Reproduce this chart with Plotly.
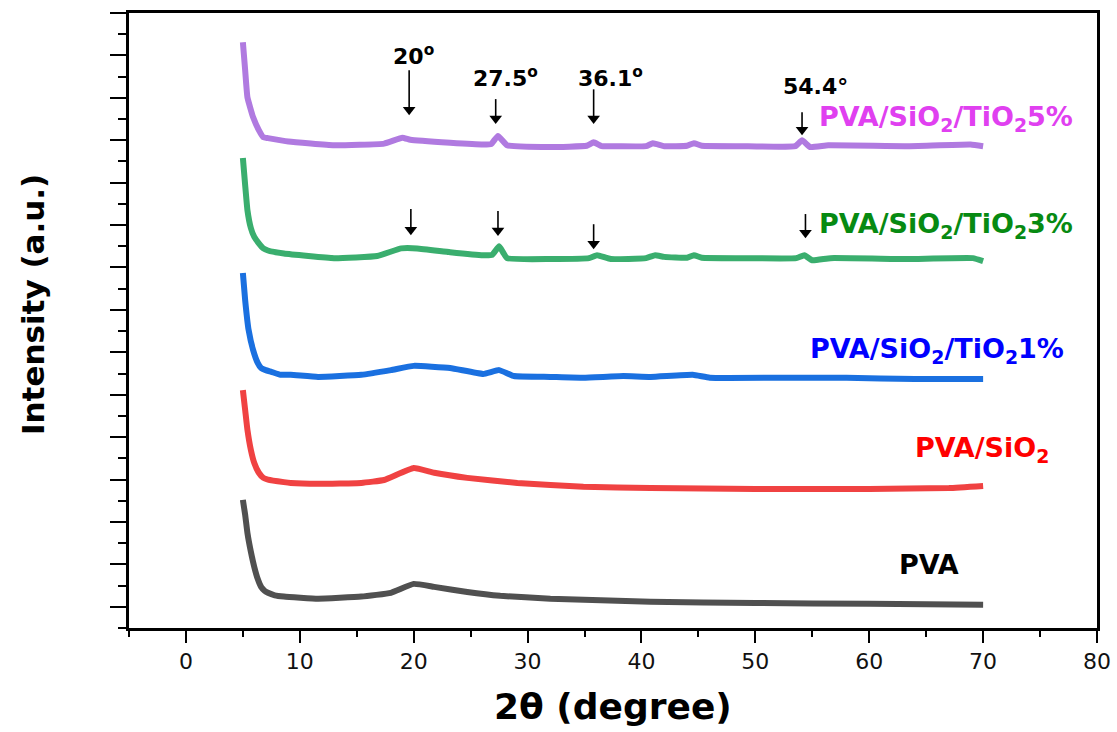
import plotly.graph_objects as go

# ---------------- data ----------------
pva_x = [5.0, 5.2, 5.4, 5.7, 6.0, 6.3, 6.6, 6.9, 7.2, 7.8, 8.6, 11.6, 15.4, 18.0, 20.0, 21.8, 24.7, 27.6, 32.0, 40.8, 50.0, 60.0, 70.0]
pva_y = [2.52, 2.17, 1.74, 1.30, 0.94, 0.66, 0.47, 0.38, 0.33, 0.27, 0.24, 0.19, 0.24, 0.33, 0.54, 0.47, 0.35, 0.26, 0.19, 0.12, 0.09, 0.07, 0.05]

sio2_x = [5.0, 5.2, 5.4, 5.7, 6.0, 6.4, 6.8, 7.2, 8.6, 9.2, 11.6, 15.4, 17.4, 20.0, 21.8, 24.7, 29.1, 34.9, 40.8, 50.0, 60.0, 67.0, 70.0]
sio2_y = [5.11, 4.64, 4.17, 3.70, 3.39, 3.16, 3.04, 3.00, 2.94, 2.92, 2.90, 2.92, 2.99, 3.27, 3.16, 3.04, 2.92, 2.83, 2.80, 2.78, 2.78, 2.80, 2.85]

ti1_x = [5.0, 5.2, 5.5, 5.9, 6.3, 6.6, 7.0, 7.5, 8.3, 9.2, 11.6, 15.4, 18.0, 20.0, 23.2, 26.1, 27.5, 28.8, 32.0, 34.9, 38.4, 40.8, 44.5, 46.0, 52.0, 58.0, 64.0, 70.0]
ti1_y = [7.87, 7.23, 6.53, 6.05, 5.75, 5.63, 5.58, 5.54, 5.47, 5.47, 5.42, 5.47, 5.58, 5.68, 5.63, 5.49, 5.58, 5.44, 5.42, 5.40, 5.44, 5.42, 5.47, 5.40, 5.40, 5.40, 5.37, 5.37]

ti3_x = [5.0, 5.2, 5.4, 5.7, 6.0, 6.4, 6.8, 7.2, 8.6, 13.0, 16.8, 18.9, 20.3, 23.2, 26.1, 26.9, 27.5, 28.2, 32.0, 35.4, 36.1, 37.3, 40.4, 41.2, 42.0, 44.0, 44.6, 45.3, 48.7, 53.6, 54.3, 55.0, 56.6, 63.3, 69.1, 70.0]
ti3_y = [10.58, 9.94, 9.35, 8.93, 8.72, 8.57, 8.45, 8.40, 8.33, 8.22, 8.27, 8.45, 8.45, 8.36, 8.29, 8.30, 8.50, 8.22, 8.20, 8.22, 8.29, 8.20, 8.22, 8.29, 8.25, 8.23, 8.29, 8.23, 8.22, 8.22, 8.29, 8.17, 8.22, 8.20, 8.22, 8.15]

ti5_x = [5.0, 5.2, 5.4, 5.9, 6.4, 6.8, 7.2, 9.0, 13.0, 17.4, 19.0, 19.7, 23.2, 26.1, 26.8, 27.4, 28.2, 32.0, 35.2, 35.8, 36.5, 37.9, 40.4, 41.0, 42.0, 44.0, 44.6, 45.3, 48.7, 53.5, 54.1, 54.8, 56.4, 63.3, 68.9, 70.0]
ti5_y = [13.31, 12.65, 12.01, 11.54, 11.24, 11.07, 11.05, 10.97, 10.88, 10.92, 11.06, 11.01, 10.94, 10.90, 10.91, 11.10, 10.88, 10.84, 10.87, 10.95, 10.86, 10.86, 10.86, 10.93, 10.86, 10.87, 10.93, 10.87, 10.86, 10.86, 11.00, 10.84, 10.88, 10.86, 10.90, 10.86]

series_names = ["PVA", "PVA/SiO<sub>2</sub>", "PVA/SiO<sub>2</sub>/TiO<sub>2</sub>1%",
                "PVA/SiO<sub>2</sub>/TiO<sub>2</sub>3%", "PVA/SiO<sub>2</sub>/TiO<sub>2</sub>5%"]

peak_labels = ["20<sup>o</sup>", "27.5<sup>o</sup>", "36.1<sup>o</sup>", "54.4°"]
peak_x_top = [19.6, 27.2, 35.8, 54.1]
peak_x_mid = [19.75, 27.4, 35.8, 54.4]

x_title = "2θ (degree)"
y_title = "Intensity (a.u.)"

# ---------------- styling ----------------
line_colors = ["#505050", "#f04242", "#1a70e0", "#3aae6e", "#b07ae0"]
text_colors = ["#000000", "#ff0000", "#0000ff", "#078a12", "#e040f0"]
label_pos = [(62.4, 0.99), (63.8, 3.70), (54.6, 6.05), (55.4, 9.00), (55.4, 11.52)]
peak_label_pos = [(19.96, 13.0), (28.1, 12.49), (37.3, 12.49), (55.3, 12.27)]
top_tips = [11.59, 11.38, 11.38, 11.12]
top_tails = [12.65, 11.97, 12.20, 11.66]
mid_tips = [8.76, 8.74, 8.43, 8.69]
mid_tails = [9.38, 9.33, 9.02, 9.26]

xs = [pva_x, sio2_x, ti1_x, ti3_x, ti5_x]
ys = [pva_y, sio2_y, ti1_y, ti3_y, ti5_y]

W, H = 1117, 732
ML, MR, MT, MB = 129, 20, 13, 104
PLOT_W = W - ML - MR
PLOT_H = H - MT - MB
Y_LO, Y_HI = -0.5, 14.0
px_per_unit = PLOT_H / (Y_HI - Y_LO)

fig = go.Figure()
for x, y, c, n in zip(xs, ys, line_colors, series_names):
    fig.add_trace(go.Scatter(x=x, y=y, mode="lines", name=n,
                             line=dict(color=c, width=6, shape="spline", smoothing=0.35),
                             showlegend=False, hoverinfo="skip"))

# arrows (shaft + head)
arr_x = peak_x_top + peak_x_mid
arr_tip = top_tips + mid_tips
arr_tail = top_tails + mid_tails
head_size = 11
head_r = head_size / 2.0
shaft_x, shaft_y, head_x, head_y = [], [], [], []
for ax_, tip, tail in zip(arr_x, arr_tip, arr_tail):
    hy = tip + head_r / px_per_unit
    shaft_x += [ax_, ax_, None]
    shaft_y += [tail, hy, None]
    head_x.append(ax_)
    head_y.append(hy)
fig.add_trace(go.Scatter(x=shaft_x, y=shaft_y, mode="lines", line=dict(color="black", width=1.6),
                         showlegend=False, hoverinfo="skip"))
fig.add_trace(go.Scatter(x=head_x, y=head_y, mode="markers",
                         marker=dict(symbol="triangle-down", size=head_size, color="black"),
                         showlegend=False, hoverinfo="skip"))

font_fam = "DejaVu Sans"
ann = []
for (lx, ly), n, tc in zip(label_pos, series_names, text_colors):
    ann.append(dict(x=lx, y=ly, xref="x", yref="y", text=n,
                    showarrow=False, xanchor="left", yanchor="middle",
                    font=dict(family=font_fam, size=27, color=tc, weight="bold")))

for (px, py), t in zip(peak_label_pos, peak_labels):
    ann.append(dict(x=px, y=py, xref="x", yref="y", text=t,
                    showarrow=False, xanchor="center", yanchor="middle",
                    font=dict(family=font_fam, size=22, color="black", weight="bold")))

# axis titles as annotations (pixel centres converted to paper coords)
ann.append(dict(x=(33 - ML) / PLOT_W, y=(H - MB - 305) / PLOT_H, xref="paper", yref="paper",
                text=y_title, showarrow=False, textangle=-90, xanchor="center", yanchor="middle",
                font=dict(family=font_fam, size=31, color="black", weight="bold")))
ann.append(dict(x=0.5, y=(H - MB - 706) / PLOT_H, xref="paper", yref="paper",
                text=x_title, showarrow=False, xanchor="center", yanchor="middle",
                font=dict(family=font_fam, size=36, color="black", weight="bold")))

fig.update_layout(
    width=W, height=H,
    margin=dict(l=ML, r=MR, t=MT, b=MB),
    paper_bgcolor="white", plot_bgcolor="white",
    annotations=ann,
    xaxis=dict(range=[-5, 80], tick0=0, dtick=10, ticks="outside", ticklen=12, tickwidth=2,
               tickcolor="black", showline=True, linewidth=2.5, linecolor="black", mirror=True,
               showgrid=False, zeroline=False, automargin=False,
               minor=dict(tick0=0, dtick=5, ticks="outside", ticklen=6, tickwidth=2,
                          tickcolor="black", showgrid=False),
               tickfont=dict(family=font_fam, size=22, color="#111111")),
    yaxis=dict(range=[Y_LO, Y_HI], tick0=0, dtick=1, ticks="outside", ticklen=16, tickwidth=2,
               tickcolor="black", showline=True, linewidth=2.5, linecolor="black", mirror=True,
               showgrid=False, zeroline=False, showticklabels=False, automargin=False,
               minor=dict(tick0=0, dtick=0.5, ticks="outside", ticklen=8, tickwidth=2,
                          tickcolor="black", showgrid=False)),
)

fig.write_html("out.html")
